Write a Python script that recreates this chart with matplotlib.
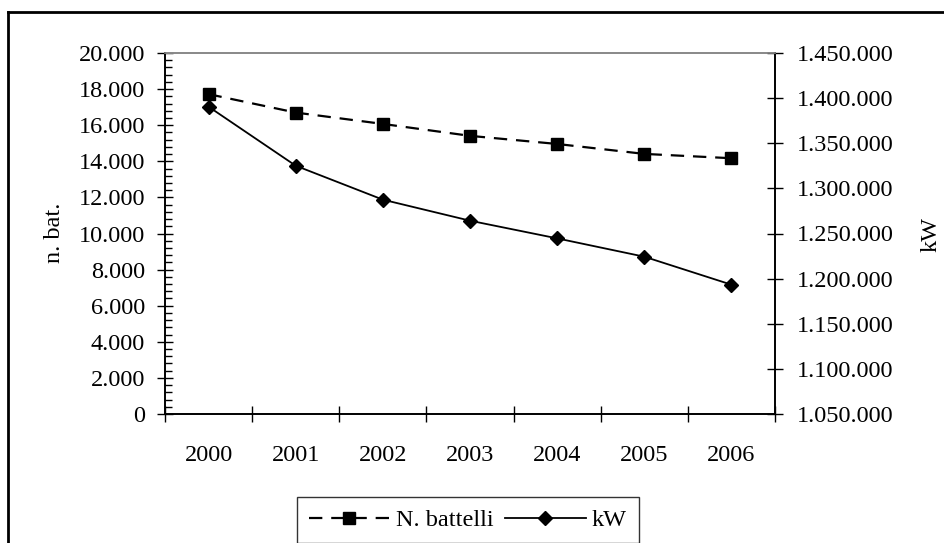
import matplotlib
matplotlib.use("Agg")
import matplotlib.pyplot as plt
from matplotlib.ticker import FuncFormatter, MultipleLocator, FixedLocator
from matplotlib.lines import Line2D

years = ["2000", "2001", "2002", "2003", "2004", "2005", "2006"]
battelli = [17720, 16700, 16070, 15410, 14960, 14410, 14170]
kw = [1390500, 1325100, 1287500, 1264200, 1244600, 1224300, 1193300]

plt.rcParams['font.family'] = ['Liberation Serif', 'DejaVu Serif']
FS = 17.5

W, H = 944, 543
fig = plt.figure(figsize=(W / 100, H / 100), dpi=100)

L, R, T, B = 165, 775, 53, 414
ax = fig.add_axes([L / W, (H - B) / H, (R - L) / W, (B - T) / H])
ax2 = ax.twinx()

def it_fmt(v, pos):
    return f"{int(round(v)):,}".replace(",", ".")

x = list(range(len(years)))
ax.plot(x, battelli, color='black', lw=1.6, ls=(0, (6, 4)), marker='s',
        markersize=8, label='N. battelli', zorder=3)
ax2.plot(x, kw, color='black', lw=1.3, marker='D', markersize=7.5,
         label='kW', zorder=3)

ax.set_xlim(-0.5, len(years) - 0.5)
ax.set_ylim(0, 20000)
ax2.set_ylim(1050000, 1450000)

ax.yaxis.set_major_locator(MultipleLocator(2000))
ax.yaxis.set_minor_locator(MultipleLocator(400))
ax.yaxis.set_major_formatter(FuncFormatter(it_fmt))
ax2.yaxis.set_major_locator(MultipleLocator(50000))
ax2.yaxis.set_major_formatter(FuncFormatter(it_fmt))

ax.set_xticks(x)
ax.set_xticklabels(years)
ax.xaxis.set_minor_locator(FixedLocator([i - 0.5 for i in range(len(years) + 1)]))
ax.tick_params(axis='x', which='major', length=0, pad=22, labelsize=FS)
ax.tick_params(axis='x', which='minor', direction='inout', length=11, width=1)
ax.tick_params(axis='y', which='major', direction='inout', length=11, width=1,
               pad=9, labelsize=FS)
ax.tick_params(axis='y', which='minor', direction='in', length=5, width=1)
ax2.tick_params(axis='y', which='major', direction='inout', length=11, width=1,
                pad=10, labelsize=FS)

for a in (ax, ax2):
    a.spines['top'].set_color('#888888')
    a.spines['top'].set_linewidth(1.2)
    for s in ('left', 'right', 'bottom'):
        a.spines[s].set_color('black')
        a.spines[s].set_linewidth(1.2)

fig.text(55 / W, (H - 233) / H, "n. bat.", rotation=90, ha='center',
         va='center', fontsize=FS)
fig.text(931 / W, (H - 235) / H, "kW", rotation=90, ha='center',
         va='center', fontsize=FS)

h1, l1 = ax.get_legend_handles_labels()
h2, l2 = ax2.get_legend_handles_labels()
leg = fig.legend(h1 + h2, l1 + l2, ncol=2, loc='center',
                 bbox_to_anchor=(468 / W, (H - 520) / H), fontsize=FS,
                 frameon=True, fancybox=False, handlelength=3.3,
                 handletextpad=0.25, columnspacing=0.5, borderpad=0.5,
                 borderaxespad=0)
leg.get_frame().set_edgecolor('black')
leg.get_frame().set_linewidth(1.0)

fig.add_artist(Line2D([8 / W, 8 / W], [0, (H - 12) / H], color='black',
                      lw=2, transform=fig.transFigure))
fig.add_artist(Line2D([8 / W, 1.0], [(H - 12) / H, (H - 12) / H],
                      color='black', lw=2, transform=fig.transFigure))

fig.savefig("out.png", dpi=100)
